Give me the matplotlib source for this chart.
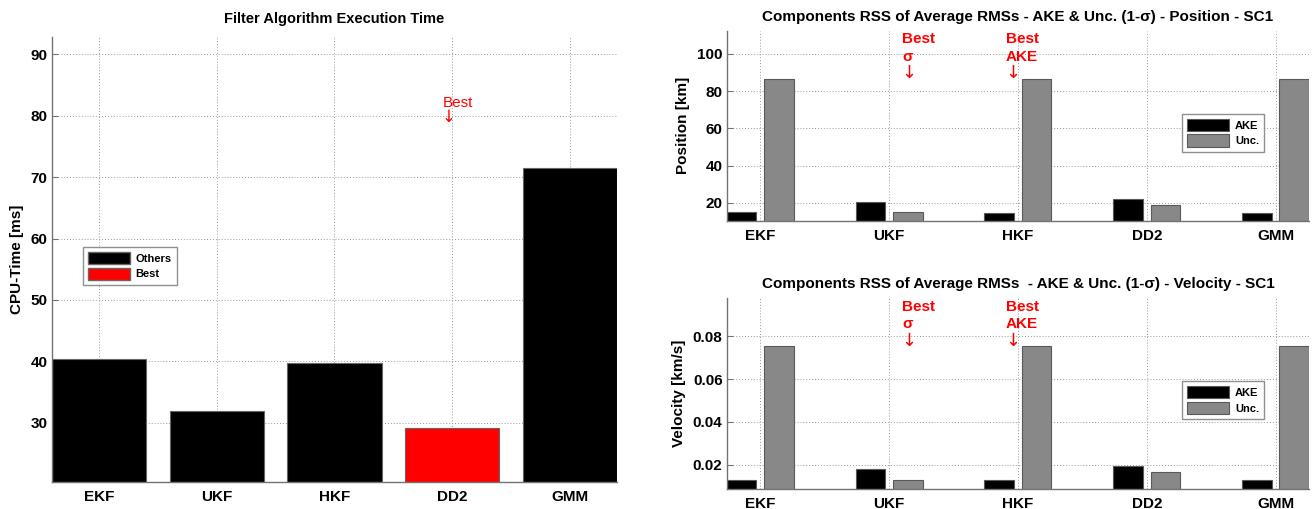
import matplotlib
matplotlib.use("Agg")
import numpy as np
import matplotlib.pyplot as plt
from matplotlib.patches import Patch

# Data
filters = ["EKF", "UKF", "HKF", "DD2", "GMM"]
cpu_time = [40.3, 31.9, 39.7, 29.1, 71.5]
best_cpu = "DD2"

pos_ake = [15.0, 20.5, 14.7, 22.1, 14.8]
pos_unc = [86.4, 14.9, 86.7, 18.9, 86.4]

vel_ake = [0.0127, 0.0180, 0.0127, 0.0194, 0.0127]
vel_unc = [0.0753, 0.0130, 0.0755, 0.0164, 0.0753]

plt.rcParams["font.family"] = ["Liberation Sans", "DejaVu Sans"]
plt.rcParams["font.weight"] = "bold"

GRID = dict(color="0.6", linestyle=(0, (1, 2)), linewidth=0.7)
SPINE = "0.45"
ARROW = "\u2193"


def style_axes(ax):
    ax.set_axisbelow(True)
    ax.grid(True, **GRID)
    for side in ["top", "right"]:
        ax.spines[side].set_visible(False)
    for side in ["left", "bottom"]:
        ax.spines[side].set_color(SPINE)
        ax.spines[side].set_linewidth(1.0)
    ax.tick_params(axis="y", direction="in", length=4, width=0.8, color=SPINE,
                   labelsize=11, pad=3)
    ax.tick_params(axis="x", length=0, labelsize=11, pad=6)
    for lbl in ax.get_xticklabels() + ax.get_yticklabels():
        lbl.set_fontweight("bold")


def make_legend(ax, handles, anchor):
    lg = ax.legend(handles=handles, loc="upper left", bbox_to_anchor=anchor,
                   borderaxespad=0, fancybox=False, edgecolor="0.45",
                   prop=dict(size=8, weight="bold"), handlelength=3.8,
                   handleheight=1.3, handletextpad=0.5, labelspacing=0.3,
                   borderpad=0.45)
    lg.get_frame().set_linewidth(1.0)


fig = plt.figure(figsize=(13.12, 5.09), dpi=100)

# Left: execution time
ax1 = fig.add_axes([0.0394, 0.053, 0.4311, 0.8737])
x = np.arange(1, len(filters) + 1)
colors = ["red" if f == best_cpu else "black" for f in filters]
ax1.bar(x, cpu_time, width=0.8, color=colors, edgecolor="0.4", linewidth=0.8)
ax1.set_xlim(0.6, 5.4)
ax1.set_ylim(20.3, 92.8)
ax1.set_xticks(x)
ax1.set_xticklabels(filters)
ax1.set_yticks([30, 40, 50, 60, 70, 80, 90])
style_axes(ax1)
ax1.set_ylabel("CPU-Time [ms]", fontsize=11, fontweight="bold", labelpad=5)
ax1.set_title("Filter Algorithm Execution Time", fontsize=10.5, fontweight="bold", pad=10)
ax1.text(3.92, 83.3, "Best", color="red", fontsize=11, fontweight="normal",
         ha="left", va="top")
ax1.text(3.91, 78.3, ARROW, color="red", fontsize=12, family="DejaVu Sans",
         fontweight="normal", ha="left", va="bottom")
make_legend(ax1, [Patch(facecolor="black", edgecolor="0.4", label="Others"),
                  Patch(facecolor="red", edgecolor="0.4", label="Best")],
            (0.055, 0.528))


def grouped(ax, ake, unc, ylim, yticks, ylabel, title, ann_top, arrow_bottom):
    off, w = 0.145, 0.23
    ax.bar(x - off, ake, width=w, color="black", edgecolor="0.35", linewidth=0.8, label="AKE")
    ax.bar(x + off, unc, width=w, color="#888888", edgecolor="0.35", linewidth=0.8, label="Unc.")
    ax.set_xlim(0.739, 5.261)
    ax.set_ylim(*ylim)
    ax.set_xticks(x)
    ax.set_xticklabels(filters)
    ax.set_yticks(yticks)
    style_axes(ax)
    ax.set_ylabel(ylabel, fontsize=11, fontweight="bold", labelpad=5)
    ax.set_title(title, fontsize=11, fontweight="bold", pad=7)
    for xpos, second in [(2.10, "\u03c3"), (2.905, "AKE")]:
        ax.text(xpos, ann_top, "Best\n" + second, color="red", fontsize=11,
                fontweight="bold", ha="left", va="top", linespacing=1.3)
        ax.text(xpos - 0.005, arrow_bottom, ARROW, color="red", fontsize=13,
                family="DejaVu Sans", fontweight="normal", ha="left", va="bottom")
    handles, _ = ax.get_legend_handles_labels()
    make_legend(ax, handles, (0.782, 0.562))


ax2 = fig.add_axes([0.5539, 0.5658, 0.444, 0.3739])
grouped(ax2, pos_ake, pos_unc, (10.3, 112.5), [20, 40, 60, 80, 100], "Position [km]",
        "Components RSS of Average RMSs - AKE & Unc. (1-\u03c3) - Position - SC1",
        111.6, 85.0)

ax3 = fig.add_axes([0.5539, 0.0399, 0.444, 0.3752])
grouped(ax3, vel_ake, vel_unc, (0.0088, 0.0981), [0.02, 0.04, 0.06, 0.08], "Velocity [km/s]",
        "Components RSS of Average RMSs  - AKE & Unc. (1-\u03c3) - Velocity - SC1",
        0.0972, 0.0738)

fig.savefig("out.png", dpi=100)
